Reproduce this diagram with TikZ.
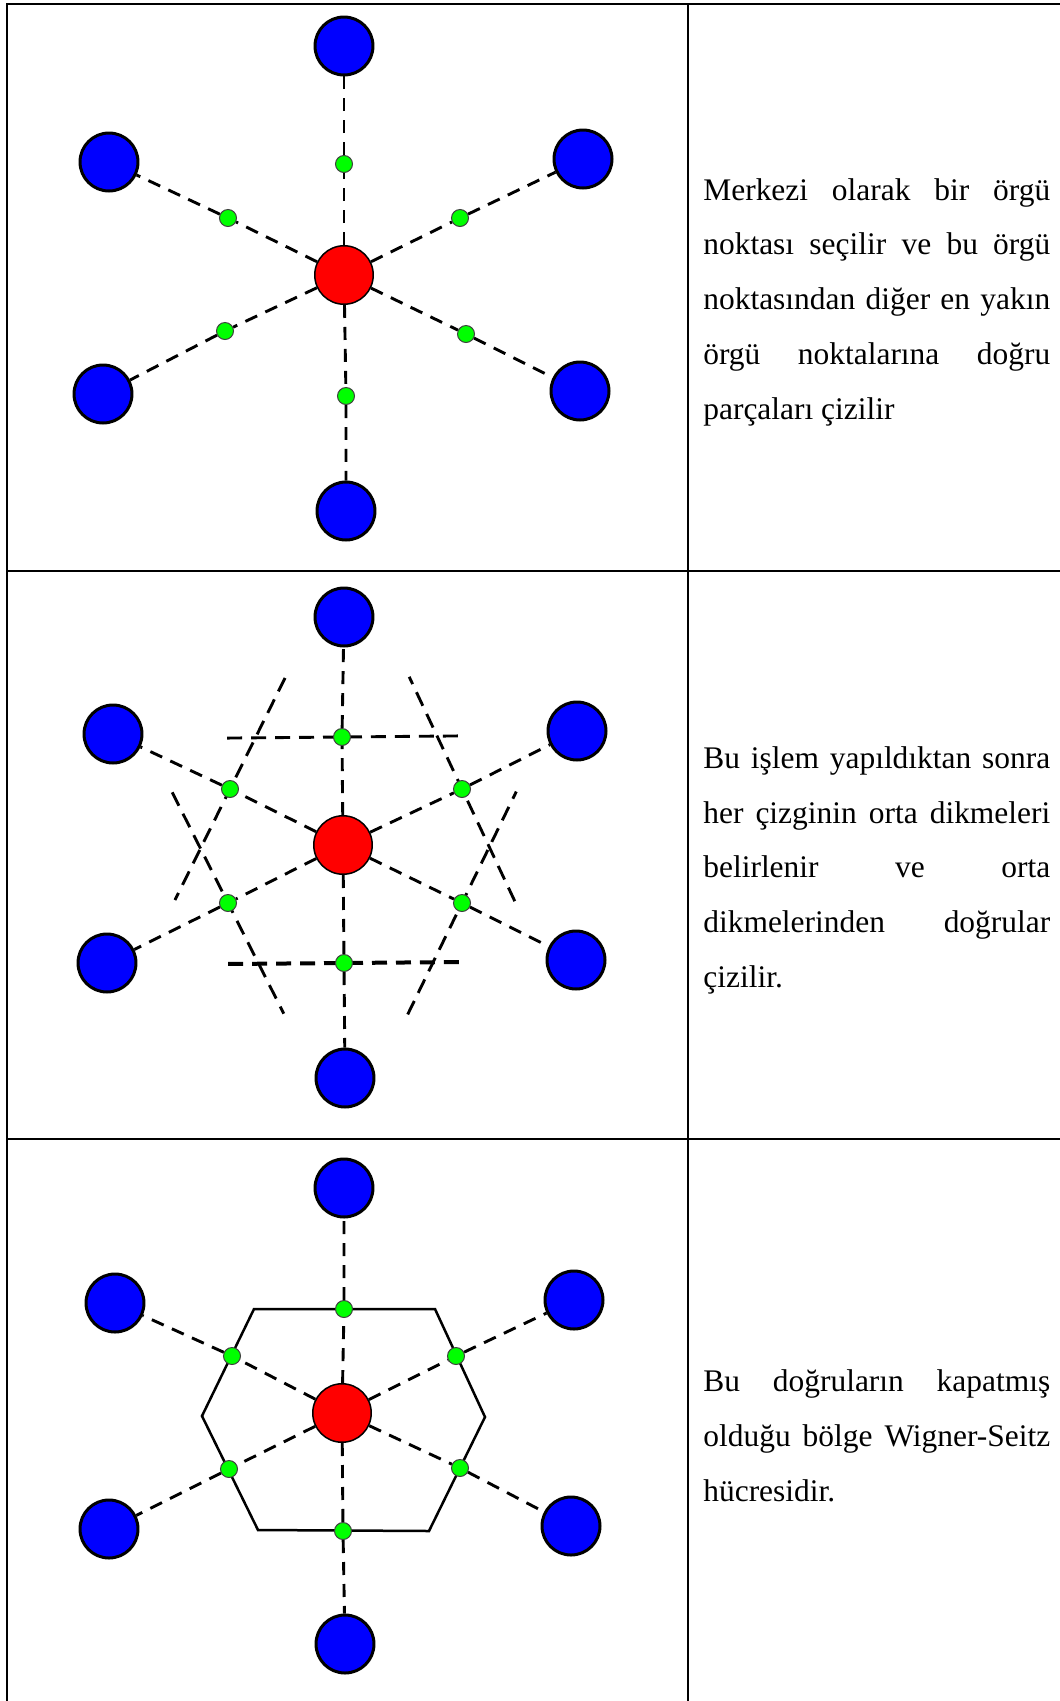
\documentclass[tikz,border=0pt]{standalone}
\usepackage{fontspec}
\setmainfont{Liberation Serif}
\usetikzlibrary{calc,backgrounds}
\definecolor{siteBlue}{RGB}{0,0,255}
\definecolor{siteRed}{RGB}{255,0,0}
\definecolor{siteGreen}{RGB}{0,255,0}
\hyphenpenalty=10000
\exhyphenpenalty=10000
\tolerance=10000

\begin{document}
\begin{tikzpicture}[x=0.02cm,y=-0.02cm,
  bluesite/.style={circle,draw=black,line width=0.06cm,fill=siteBlue,minimum size=1.16cm,inner sep=0pt},
  redsite/.style={circle,draw=black,line width=0.03cm,fill=siteRed,minimum size=1.17cm,inner sep=0pt},
  greensite/.style={circle,draw=black!75,line width=0.02cm,fill=siteGreen,minimum size=0.34cm,inner sep=0pt},
  bond/.style={dash pattern=on 0.26cm off 0.18cm,line width=0.058cm},
  bisector/.style={dash pattern=on 0.3cm off 0.18cm,line width=0.058cm},
  cellline/.style={line width=0.05cm,line join=miter},
  tableline/.style={line width=0.04cm},
  celltext/.style={anchor=base west,text width=6.94cm,align=justify,inner sep=0pt,font=\fontsize{17.9}{31.3}\selectfont}]
\path[use as bounding box] (0,0) rectangle (1060,1701);
\draw[tableline] (1060,4) -- (7,4) -- (7,1701);
\draw[tableline] (688,4) -- (688,1701);
\draw[tableline] (7,571) -- (1060,571);
\draw[tableline] (7,1139) -- (1060,1139);

\node[celltext] (txt1) at (703,200) {Merkezi olarak bir örgü\linebreak noktası seçilir ve bu örgü\linebreak noktasından diğer en yakın\linebreak örgü noktalarına doğru\linebreak parçaları çizilir};
\node[celltext] (txt2) at (703,768) {Bu işlem yapıldıktan sonra\linebreak her çizginin orta dikmeleri\linebreak belirlenir ve orta\linebreak dikmelerinden doğrular\linebreak çizilir.};
\node[celltext] (txt3) at (703,1391) {Bu doğruların kapatmış\linebreak olduğu bölge Wigner-Seitz\linebreak hücresidir.};

\node[redsite] (c1) at (344,275) {};
\node[bluesite] (t1) at (344,46) {};
\node[bluesite] (ul1) at (109,162) {};
\node[bluesite] (ur1) at (583,159) {};
\node[bluesite] (ll1) at (103,394) {};
\node[bluesite] (lr1) at (580,391) {};
\node[bluesite] (b1) at (346,511) {};
\node[greensite] (gt1) at (344,164) {};
\node[greensite] (gul1) at (228,218) {};
\node[greensite] (gur1) at (460,218) {};
\node[greensite] (gll1) at (225,331) {};
\node[greensite] (glr1) at (466,334) {};
\node[greensite] (gb1) at (346,396) {};
\draw[bond] (c1) -- (gt1) -- (t1);
\draw[bond] (c1) -- (gul1) -- (ul1);
\draw[bond] (c1) -- (gur1) -- (ur1);
\draw[bond] (c1) -- (gll1) -- (ll1);
\draw[bond] (c1) -- (glr1) -- (lr1);
\draw[bond] (c1) -- (gb1) -- (b1);

\node[redsite] (c2) at (343,845) {};
\node[bluesite] (t2) at (344,617) {};
\node[bluesite] (ul2) at (113,734) {};
\node[bluesite] (ur2) at (577,731) {};
\node[bluesite] (ll2) at (107,963) {};
\node[bluesite] (lr2) at (576,960) {};
\node[bluesite] (b2) at (345,1078) {};
\node[greensite] (gt2) at (342,737) {};
\node[greensite] (gul2) at (230,789) {};
\node[greensite] (gur2) at (462,789) {};
\node[greensite] (gll2) at (228,903) {};
\node[greensite] (glr2) at (462,903) {};
\node[greensite] (gb2) at (344,963) {};
\draw[bond] (c2) -- (gt2) -- (t2);
\draw[bond] (c2) -- (gul2) -- (ul2);
\draw[bond] (c2) -- (gur2) -- (ur2);
\draw[bond] (c2) -- (gll2) -- (ll2);
\draw[bond] (c2) -- (glr2) -- (lr2);
\draw[bond] (c2) -- (gb2) -- (b2);
\begin{scope}[on background layer]
\draw[bisector] ($(gt2)!2.32cm!90:(c2)$) -- ($(gt2)!2.32cm!-90:(c2)$);
\draw[bisector,line width=0.08cm] ($(gb2)!2.32cm!90:(c2)$) -- ($(gb2)!2.32cm!-90:(c2)$);
\draw[bisector] ($(gul2)!2.48cm!90:(c2)$) -- ($(gul2)!2.48cm!-90:(c2)$);
\draw[bisector] ($(gur2)!2.48cm!90:(c2)$) -- ($(gur2)!2.48cm!-90:(c2)$);
\draw[bisector] ($(gll2)!2.48cm!90:(c2)$) -- ($(gll2)!2.48cm!-90:(c2)$);
\draw[bisector] ($(glr2)!2.48cm!90:(c2)$) -- ($(glr2)!2.48cm!-90:(c2)$);
\end{scope}

\node[redsite] (c3) at (342,1413) {};
\node[bluesite] (t3) at (344,1188) {};
\node[bluesite] (ul3) at (115,1303) {};
\node[bluesite] (ur3) at (574,1300) {};
\node[bluesite] (ll3) at (109,1529) {};
\node[bluesite] (lr3) at (571,1526) {};
\node[bluesite] (b3) at (345,1644) {};
\node[greensite] (gt3) at (344,1309) {};
\node[greensite] (gul3) at (232,1356) {};
\node[greensite] (gur3) at (456,1356) {};
\node[greensite] (gll3) at (229,1469) {};
\node[greensite] (glr3) at (460,1468) {};
\node[greensite] (gb3) at (343,1531) {};
\draw[bond] (c3) -- (gt3) -- (t3);
\draw[bond] (c3) -- (gul3) -- (ul3);
\draw[bond] (c3) -- (gur3) -- (ur3);
\draw[bond] (c3) -- (gll3) -- (ll3);
\draw[bond] (c3) -- (glr3) -- (lr3);
\draw[bond] (c3) -- (gb3) -- (b3);
\begin{scope}[on background layer]
\draw[cellline] (254,1309) -- (435,1309) -- (485,1417) -- (429,1531) -- (258,1530) -- (202,1416) -- cycle;
\end{scope}
\end{tikzpicture}
\end{document}
